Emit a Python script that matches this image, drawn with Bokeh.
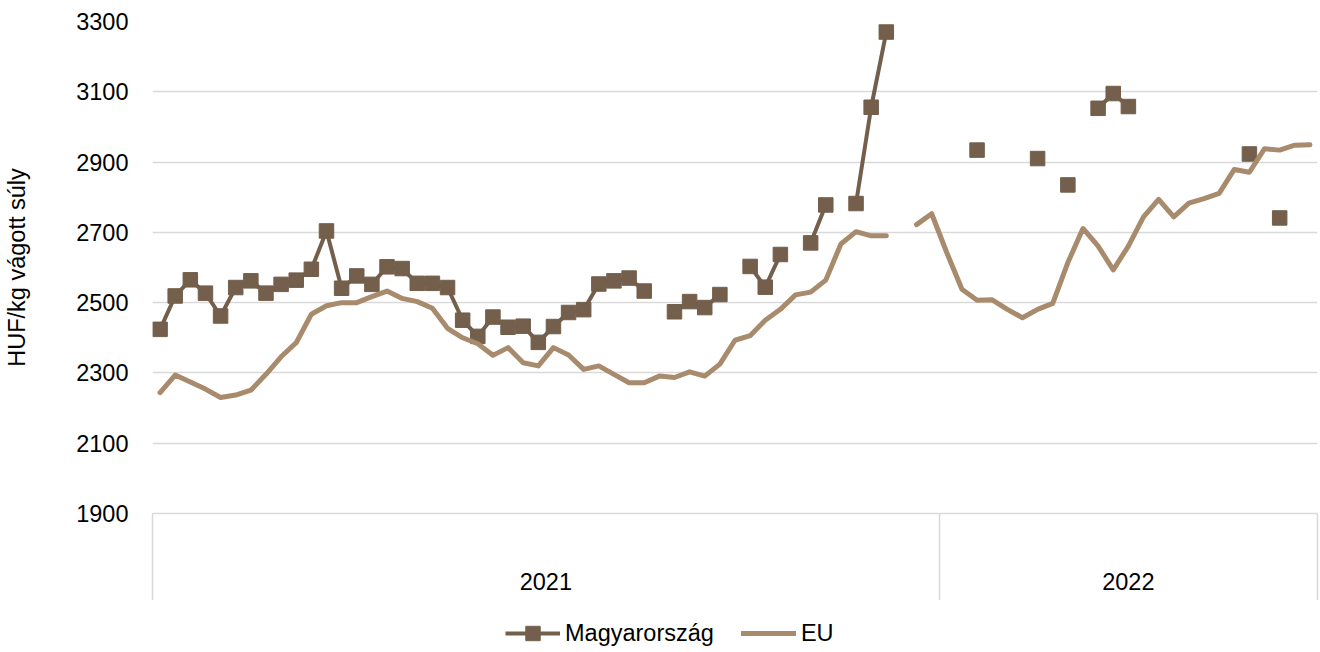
import numpy as np
from bokeh.plotting import figure
from bokeh.layouts import column
from bokeh.models import Range1d, FixedTicker, LinearAxis, Legend, LegendItem, ColumnDataSource
from bokeh.embed import file_html
from bokeh.resources import INLINE

# ---- data -------------------------------------------------------------
years = ["2021", "2022"]
weeks_per_year = [52, 25]

# HUF/kg carcass weight, weekly; None = no data
hungary = [
    2424, 2519, 2565, 2527, 2462, 2543, 2562, 2527, 2552, 2564,
    2595, 2704, 2541, 2576, 2552, 2602, 2597, 2555, 2555, 2543,
    2450, 2404, 2459, 2430, 2433, 2387, 2432, 2472, 2480, 2553,
    2562, 2570, 2533, None, 2474, 2503, 2486, 2523, None, 2603,
    2544, 2637, None, 2670, 2778, None, 2782, 3056, 3270, None,
    None, None, None, None, 2934, None, None, None, 2910, None,
    2835, None, 3053, 3095, 3058, None, None, None, None, None,
    None, None, 2923, None, 2741, None, None,
]
eu = [
    2244, 2294, 2274, 2254, 2230, 2237, 2251, 2296, 2346, 2386,
    2467, 2491, 2500, 2500, 2517, 2533, 2512, 2503, 2484, 2427,
    2400, 2383, 2350, 2372, 2329, 2320, 2372, 2351, 2310, 2320,
    2296, 2272, 2272, 2291, 2287, 2303, 2291, 2325, 2393, 2406,
    2450, 2481, 2522, 2530, 2564, 2667, 2702, 2690, 2690, None,
    2722, 2753, 2642, 2538, 2507, 2508, 2481, 2457, 2481, 2498,
    2614, 2711, 2661, 2593, 2661, 2744, 2794, 2744, 2783, 2796,
    2811, 2879, 2871, 2938, 2934, 2948, 2949,
]
y_ticks = [1900, 2100, 2300, 2500, 2700, 2900, 3100, 3300]
series_labels = ["Magyarország", "EU"]

# ---- styling ----------------------------------------------------------
HU_COLOR = "#735f4b"
EU_COLOR = "#a88a6d"
GRID = "#d9d9d9"
FONT = "Liberation Sans"
FS = "23.5px"
HU_STYLE = dict(line_color=HU_COLOR, line_width=4, line_join="round")
HU_MARK = dict(marker="square", size=14.5, fill_color=HU_COLOR, line_color=HU_COLOR)
EU_STYLE = dict(line_color=EU_COLOR, line_width=5, line_join="round", line_cap="round")

n = sum(weeks_per_year)
x = np.arange(n) + 0.5
hu_arr = np.array([np.nan if v is None else v for v in hungary], dtype=float)
eu_arr = np.array([np.nan if v is None else v for v in eu], dtype=float)
src = ColumnDataSource(dict(x=x, hu=hu_arr, eu=eu_arr))

# ---- main chart -------------------------------------------------------
p = figure(width=1320, height=600, output_backend="svg", toolbar_location=None,
           x_range=Range1d(0, n), y_range=Range1d(y_ticks[0], y_ticks[-1]),
           x_axis_location=None,
           min_border_left=152, min_border_right=3, min_border_top=21, min_border_bottom=87)
p.outline_line_color = None
p.background_fill_color = "white"
p.xgrid.visible = False
p.ygrid.ticker = FixedTicker(ticks=y_ticks)
p.ygrid.grid_line_color = GRID
p.ygrid.grid_line_width = 1.5

yax = p.yaxis[0]
yax.ticker = FixedTicker(ticks=y_ticks)
yax.axis_line_color = None
yax.major_tick_line_color = None
yax.minor_tick_line_color = None
yax.major_label_standoff = 18
yax.major_label_text_font = FONT
yax.major_label_text_font_size = FS
yax.major_label_text_color = "black"
yax.axis_label = "HUF/kg vágott súly"
yax.axis_label_text_font = FONT
yax.axis_label_text_font_size = FS
yax.axis_label_text_font_style = "normal"
yax.axis_label_text_color = "black"
yax.axis_label_standoff = 43

# year axis: labels at group centres, minor ticks as group separators
centers, bounds, start = [], [0], 0
for w in weeks_per_year:
    centers.append(start + w / 2)
    start += w
    bounds.append(start)
xax = LinearAxis(ticker=FixedTicker(ticks=centers, minor_ticks=bounds),
                 major_label_overrides={c: yr for c, yr in zip(centers, years)})
xax.axis_line_color = GRID
xax.axis_line_width = 1.5
xax.major_tick_line_color = None
xax.major_tick_out = 0
xax.major_tick_in = 0
xax.minor_tick_out = 87
xax.minor_tick_in = 0
xax.minor_tick_line_color = GRID
xax.minor_tick_line_width = 1.5
xax.major_label_standoff = -28
xax.major_label_text_font = FONT
xax.major_label_text_font_size = FS
xax.major_label_text_color = "black"
p.add_layout(xax, "below")

p.line("x", "hu", source=src, **HU_STYLE)
p.scatter("x", "hu", source=src, **HU_MARK)
p.line("x", "eu", source=src, **EU_STYLE)

# ---- legend strip below the chart (its frame is aligned with the chart's) ----
lg = figure(width=1320, height=52, output_backend="svg", toolbar_location=None,
            x_range=Range1d(0, 1), y_range=Range1d(0, 1),
            x_axis_location=None, y_axis_location=None, min_border=0)
lg.outline_line_color = None
lg.grid.visible = False
key_src = ColumnDataSource(dict(x=[np.nan], y=[np.nan]))
k_hu_line = lg.line("x", "y", source=key_src, **HU_STYLE)
k_hu_mark = lg.scatter("x", "y", source=key_src, **HU_MARK)
k_eu_line = lg.line("x", "y", source=key_src, **EU_STYLE)
legend = Legend(items=[LegendItem(label=series_labels[0], renderers=[k_hu_line, k_hu_mark]),
                       LegendItem(label=series_labels[1], renderers=[k_eu_line])],
                location=(353, 1), orientation="horizontal",
                glyph_width=55, glyph_height=36, label_standoff=5, spacing=27,
                padding=0, margin=0, border_line_color=None, background_fill_alpha=0,
                label_text_font=FONT, label_text_font_size=FS, label_text_color="black")
lg.add_layout(legend)

layout = column(p, lg, spacing=0)
open("out.html", "w").write(file_html(layout, INLINE))
